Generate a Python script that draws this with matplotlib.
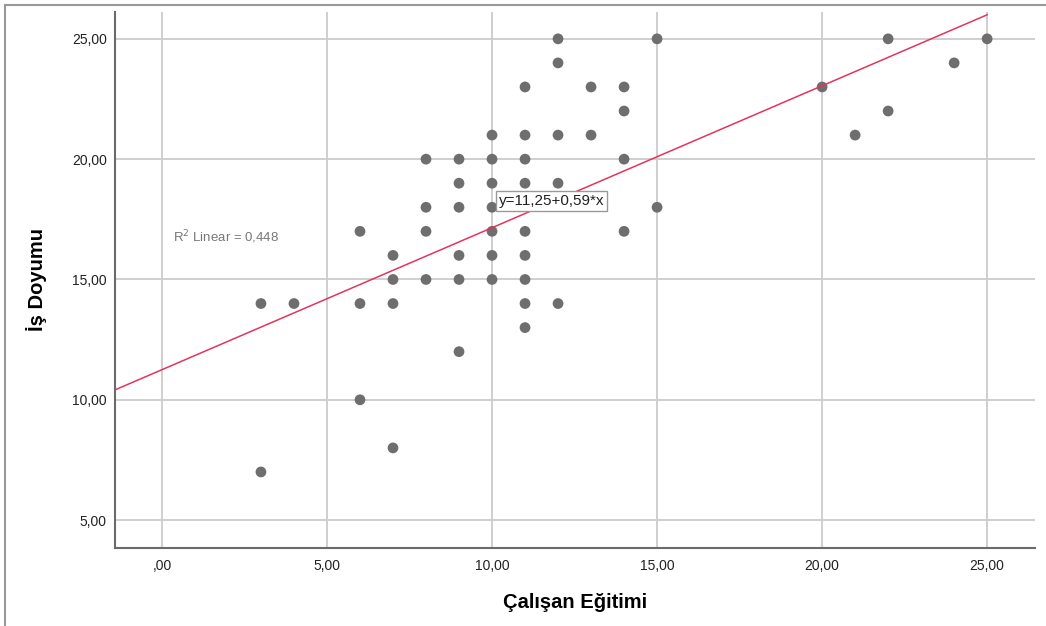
import matplotlib
import matplotlib.pyplot as plt
import numpy as np
from matplotlib.lines import Line2D

matplotlib.use("Agg")

# Çalışan Eğitimi (x) / İş Doyumu (y)
egitim = [3, 3, 4, 6, 6, 6, 7, 7, 7, 7,
          8, 8, 8, 8, 9, 9, 9, 9, 9, 9,
          10, 10, 10, 10, 10, 10, 10,
          11, 11, 11, 11, 11, 11, 11, 11, 11,
          12, 12, 12, 12, 12, 13, 13, 14, 14, 14, 14,
          15, 15, 20, 21, 22, 22, 24, 25]
doyum = [14, 7, 14, 17, 14, 10, 16, 15, 14, 8,
         20, 18, 17, 15, 20, 19, 18, 16, 15, 12,
         21, 20, 19, 18, 17, 16, 15,
         23, 21, 20, 19, 17, 16, 15, 14, 13,
         25, 24, 21, 19, 14, 23, 21, 23, 22, 20, 17,
         25, 18, 23, 21, 25, 22, 24, 25]

INTERCEPT = 11.25
SLOPE = 0.59
R2 = 0.448

X_TICKS = [0, 5, 10, 15, 20, 25]
X_TICK_LABELS = [",00", "5,00", "10,00", "15,00", "20,00", "25,00"]
Y_TICKS = [5, 10, 15, 20, 25]
Y_TICK_LABELS = ["5,00", "10,00", "15,00", "20,00", "25,00"]

POINT_COLOR = "#6e6e6e"
LINE_COLOR = "#e3345c"
GRID_COLOR = "#cccccc"
SPINE_COLOR = "#6a6a6a"

plt.rcParams["font.family"] = ["Liberation Sans", "DejaVu Sans"]

fig = plt.figure(figsize=(10.46, 6.26), dpi=100)
ax = fig.add_axes([0.110, 0.1246, 0.8795, 0.8564])

xmin, xmax = -1.42, 26.45
ax.set_xlim(xmin, xmax)
ax.set_ylim(3.84, 26.12)

ax.scatter(egitim, doyum, s=60, color=POINT_COLOR, edgecolors="none", zorder=3)

fit_x = np.array([xmin, 25.0])
ax.plot(fit_x, INTERCEPT + SLOPE * fit_x, color=LINE_COLOR, linewidth=1.1, zorder=4)

ax.text(10.2, 18.26, f"y={INTERCEPT:.2f}+{SLOPE:.2f}*x".replace(".", ","),
        fontsize=11, color="#222222", va="center", ha="left", zorder=5,
        bbox=dict(boxstyle="square,pad=0.2", facecolor="white", edgecolor="#999999", linewidth=1))
ax.text(0.33, 16.77, f"R$^2$ Linear = {R2:.3f}".replace(".", ","),
        fontsize=9.5, color="#777777", va="center", ha="left", zorder=5)

ax.set_xticks(X_TICKS)
ax.set_xticklabels(X_TICK_LABELS, fontsize=10)
ax.set_yticks(Y_TICKS)
ax.set_yticklabels(Y_TICK_LABELS, fontsize=10)
ax.tick_params(length=0, colors="#222222")
ax.tick_params(axis="y", pad=6)
ax.tick_params(axis="x", pad=8)

ax.grid(color=GRID_COLOR, linewidth=1.3, zorder=0)
ax.set_axisbelow(True)
for side in ["top", "right"]:
    ax.spines[side].set_visible(False)
for side in ["left", "bottom"]:
    ax.spines[side].set_color(SPINE_COLOR)
    ax.spines[side].set_linewidth(1.5)

ax.set_xlabel("Çalışan Eğitimi", fontsize=14.5, fontweight="bold", labelpad=14)
ax.set_ylabel("İş Doyumu", fontsize=14.5, fontweight="bold", labelpad=18)

# outer frame lines at top and left
fig.add_artist(Line2D([0.005, 1.0], [0.992, 0.992], color="#999999", linewidth=1.5))
fig.add_artist(Line2D([0.005, 0.005], [0.0, 0.992], color="#999999", linewidth=1.5))

fig.savefig("out.png", dpi=100)
